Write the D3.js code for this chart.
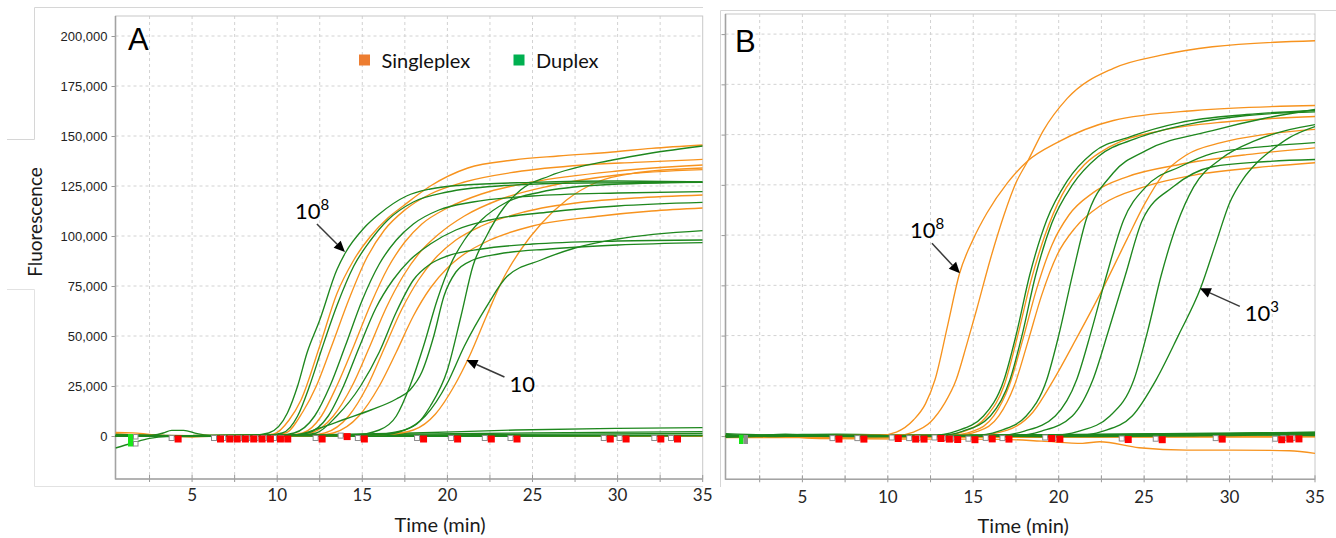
<!DOCTYPE html>
<html>
<head>
<meta charset="utf-8">
<script src="https://cdn.jsdelivr.net/npm/d3@7"></script>
<style>
  body { margin: 0; background: #fff; }
  svg { display: block; }
</style>
</head>
<body>
<svg id="chart" width="1336" height="538"></svg>
<script>
// ---- axis values ----
const timeTicks = [5, 10, 15, 20, 25, 30, 35];
const timeGrid = [2.5, 5, 7.5, 10, 12.5, 15, 17.5, 20, 22.5, 25, 27.5, 30, 32.5];
const fluorescenceTicks = [0, 25000, 50000, 75000, 100000, 125000, 150000, 175000, 200000];
const seriesNames = ["Singleplex", "Duplex"];

// ---- panel A: amplification curves, [time (min), fluorescence] ----
const singleplexA = [
  [[0.5,0],[9,300],[9.8,1000],[10.7,8000],[11.4,18000],[12.5,45000],[13.5,71000],[14.5,88000],[15.5,100000],[16.5,109000],[17.4,115000],[19,125000],[21.2,134000],[23.9,138000],[26.5,140000],[29.7,142000],[32,143800],[35,145500]],
  [[0.5,0],[9.5,300],[10.5,1500],[11.5,12000],[12.3,25000],[13.2,45000],[14.2,68000],[15.2,88000],[16.3,103000],[17.5,113000],[19,121000],[21,127000],[24,132000],[28,135500],[31,136800],[35,138300]],
  [[0.5,0],[10.5,300],[11.5,1500],[12.6,10000],[13.5,25000],[14.5,45000],[15.5,66000],[16.5,84000],[17.5,97000],[18.5,106000],[20,114000],[22,121000],[25,127000],[30,132500],[35,135500]],
  [[0.5,0],[11,300],[12,1500],[13.3,10000],[14.4,25000],[15.4,44000],[16.4,64000],[17.4,80000],[18.4,92000],[19.5,101000],[21,110000],[23,118000],[26,125000],[30,130500],[35,133200]],
  [[0.5,0],[11.8,300],[12.8,1500],[14.2,10000],[15.3,25000],[16.3,44000],[17.3,63000],[18.3,78000],[19.3,89000],[20.5,98000],[22,105000],[24.5,112000],[28,117000],[31,119000],[35,120500]],
  [[0.5,0],[12.3,300],[13.3,1500],[14.8,10000],[16,25000],[17,42000],[18,60000],[19,74000],[20,84000],[21,91000],[22.5,98000],[25,105000],[29,110000],[32,112500],[35,114000]],
  [[0.5,0],[15,300],[16.5,800],[18,3000],[19.3,11000],[20.4,25000],[21.3,40000],[22.3,60000],[23.3,79000],[24.3,93000],[25.5,106000],[27,118000],[28.8,127000],[31,131500],[35,134000]]
];
const duplexA = [
  [[0.5,0],[8.5,300],[9.5,1500],[10.6,11500],[11.2,25000],[11.75,41500],[12.5,58000],[13.5,83000],[14,91500],[15.1,104000],[16,111000],[17.6,120000],[19,123500],[21,125500],[25,126800],[30,127500],[35,127000]],
  [[0.5,0],[9.3,300],[10.3,1500],[11.2,10000],[11.9,25000],[12.6,43000],[13.5,65000],[14.5,85000],[15.5,98000],[16.5,108000],[18,117000],[20,122000],[23,125000],[28,126500],[35,126800]],
  [[0.5,0],[10,300],[11,1500],[12.2,10000],[13.1,25000],[14,45000],[15,68000],[16,86000],[17,98000],[18,106000],[19.5,113000],[21.5,117000],[25,120000],[30,121500],[35,122200]],
  [[0.5,0],[10.8,300],[11.8,1500],[13,10000],[13.9,25000],[14.8,44000],[15.8,64000],[16.8,78000],[17.8,88000],[19,96000],[20.5,103000],[22.5,108000],[26,112000],[30,115000],[35,116800]],
  [[0.5,0],[11.3,300],[12.3,1500],[13.5,10000],[14.9,25000],[16,42000],[17,62000],[18,78000],[19,86000],[20,90000],[22,93500],[25,96000],[30,97500],[35,98000]],
  [[0.5,0],[10,300],[11,500],[12.5,4000],[14,8500],[15.5,13000],[17,18500],[17.8,23000],[18.5,32000],[19.2,50000],[19.8,70000],[20.5,82000],[21.5,88000],[23,91000],[26,93500],[30,95500],[35,96700]],
  [[0.5,0],[15.5,500],[17,2000],[18.2,6000],[19,15000],[20,33000],[20.8,60000],[21.5,85000],[22.3,100000],[23.3,114000],[24.3,123000],[26,130000],[29.7,138000],[32,141500],[35,145000]],
  [[0.5,0],[14.5,500],[16,3000],[17,10000],[17.8,25000],[18.6,45000],[19.4,68000],[20.2,86000],[21,98000],[22,108000],[23.5,117000],[25.5,122000],[29,125500],[35,127000]],
  [[0.5,0],[16,500],[17.5,3000],[18.7,10000],[20,26500],[21,45000],[22.3,64700],[23.5,79700],[25.5,88000],[27.5,94000],[30,98500],[35,102700]]
];
// no-template / no-signal wells in panel A
const singleplexFlatA = [
  [[0.5,1800],[1.5,1600],[2.5,800],[4,-200],[5,-500],[6,-200],[10,0],[20,-100],[35,-200]],
  [[0.5,1200],[3,300],[8,0],[20,200],[35,0]]
];
const duplexFlatA = [
  [[0.5,-6000],[1.5,-3500],[2.5,-1200],[3.5,-300],[10,0],[20,300],[35,400]],
  [[0.5,500],[2.5,200],[3.3,1500],[3.8,2800],[4.5,2800],[5.3,1200],[6.2,200],[12,500],[18,1500],[24,3000],[30,3800],[35,4200]],
  [[0.5,800],[5,200],[12,300],[18,900],[25,1600],[35,2200]],
  [[0.5,300],[10,0],[20,600],[35,1300]],
  [[0.5,200],[15,-200],[35,100]]
];

// ---- panel B: amplification curves ----
const singleplexB = [
  [[0.5,0],[9.5,300],[10.5,2000],[11.5,8000],[12.2,16000],[12.76,28000],[13.5,55000],[14.2,81000],[15,98000],[15.8,111000],[17,126000],[18.2,137000],[19.9,146000],[23.2,157000],[28,162000],[35,164500]],
  [[0.5,0],[10.5,300],[11.5,2000],[12.5,7000],[13.3,16000],[14,28000],[14.6,45000],[15.2,63000],[16,88000],[16.8,110000],[17.5,126000],[18.2,137000],[19.1,152000],[20.5,168000],[23.2,183000],[26,189500],[29,193700],[35,196700]],
  [[0.5,0],[13,300],[14.5,2500],[15.8,10000],[16.8,25000],[17.6,50000],[18.4,78000],[19.2,100000],[20.2,120000],[21.5,135000],[23,144000],[26,152000],[30,156500],[35,159000]],
  [[0.5,0],[13.5,300],[15,2500],[16.2,10000],[17.1,25000],[17.9,48000],[18.7,73000],[19.6,95000],[20.6,110000],[22,121000],[24,129000],[27,135000],[31,140000],[35,143400]],
  [[0.5,0],[13.8,300],[15.3,2500],[16.5,10000],[17.4,25000],[18.2,47000],[19,70000],[19.9,90000],[21,104000],[22.5,115000],[25,124000],[28,130000],[31.5,133500],[35,136000]],
  [[0.5,0],[15,300],[17,3000],[18.5,12000],[19.7,28000],[21,48000],[22.5,72000],[24,98000],[25,115000],[26.1,130000],[27.5,140000],[29.5,146000],[32,150000],[35,152600]]
];
const duplexB = [
  [[0.5,0],[12.5,300],[14,2500],[15.6,10000],[16.8,28000],[17.5,50000],[18.3,80000],[19.3,107500],[20.5,127000],[22,141000],[24.2,149000],[27.1,156000],[31,160000],[35,162000]],
  [[0.5,0],[13,300],[14.4,2500],[16,10000],[17.15,28000],[17.85,50000],[18.65,80000],[19.6,106000],[20.8,125000],[22.3,139000],[24.5,148000],[27.5,155000],[31,159500],[35,161300]],
  [[0.5,0],[15,300],[16.5,2500],[18.1,10000],[19.3,28000],[20,50000],[20.8,80000],[21.6,107500],[23.2,131000],[25.1,142000],[29,152000],[32,158000],[35,162500]],
  [[0.5,0],[16.5,300],[18,2500],[19.8,10000],[21.05,28000],[21.9,52000],[22.8,80000],[23.8,107500],[25.1,124000],[27.1,134000],[29,140700],[32,144000],[35,146000]],
  [[0.5,0],[17.5,300],[19,2500],[20.8,10000],[22,28000],[22.9,52000],[23.9,80000],[24.9,107500],[26.7,124000],[29,134000],[32,136500],[35,137600]],
  [[0.5,0],[19.5,300],[21.2,2500],[23,10000],[24.4,28000],[25.2,52000],[26,80000],[26.9,105000],[27.9,124000],[29.5,138000],[31.5,147000],[33.5,152500],[35,155000]],
  [[0.5,0],[21,300],[22.6,2500],[24.3,10000],[25.7,28000],[27,50000],[28.3,73500],[29.2,96000],[30,116000],[30.8,128000],[31.6,136000],[32.5,142500],[33.5,148500],[35,154000]]
];
const singleplexFlatB = [
  [[0.5,0],[4,-300],[6,-1200],[12,-1500],[16.6,-1600],[19,-2500],[21.4,-3600],[22.4,-2800],[24.7,-5800],[27.5,-7000],[30.2,-7000],[33.5,-7300],[35,-8600]],
  [[0.5,-500],[10,-300],[20,-200],[35,-400]],
  [[0.5,-800],[15,-600],[35,-300]]
];
const duplexFlatB = [
  [[0.5,800],[2,300],[4,900],[6,200],[12,400],[20,300],[28,900],[35,1500]],
  [[0.5,500],[3,-200],[8,500],[16,200],[24,700],[30,1200],[35,2000]],
  [[0.5,-300],[5,300],[10,-200],[18,300],[26,500],[32,1400],[35,900]],
  [[0.5,200],[6,600],[14,0],[22,-300],[30,300],[35,1000]],
  [[0.5,-600],[4,0],[12,200],[20,600],[27,200],[33,1600],[35,1200]],
  [[0.5,100],[9,-300],[17,200],[25,900],[31,600],[35,300]],
  [[0.5,1200],[3,600],[7,1000],[13,300],[21,800],[29,1500],[35,1800]],
  [[0.5,-200],[4.5,700],[11,100],[19,-200],[26,1100],[35,600]]
];

// ---- threshold-call markers along the baseline, [time (min), fluorescence] ----
const markersA = [[4.18,-1500],[6.67,-1500],[7.21,-1500],[7.65,-1500],[8.13,-1500],[8.62,-1500],[9.11,-1500],[9.6,-1500],[10.19,-1500],[10.62,-1500],[12.64,-1500],[14.11,-300],[15.12,-1500],[18.6,-1500],[20.6,-1500],[22.58,-1500],[24.09,-1500],[29.57,-1500],[30.5,-1500],[32.54,-1500],[33.52,-1500]];
const markersB = [[7.14,-1500],[8.6,-1500],[10.61,-1200],[11.63,-1500],[12.12,-1500],[13.11,-1200],[13.6,-1500],[14.09,-1700],[15.1,-1800],[16.11,-1400],[17.09,-1500],[19.59,-1200],[20.07,-1500],[24.07,-1700],[26.06,-1800],[29.57,-1500],[33.05,-1800],[33.53,-1500],[34.06,-1400]];

// ---- drawing ----
const svg = d3.select("#chart");
const COL = { single: "#f7931e", duplex: "#1e871e", legendSingle: "#ed7d31", legendDuplex: "#00b050" };

svg.append("rect").attr("width", 1336).attr("height", 538).attr("fill", "#fff");

// light outer frames around each panel
svg.append("path").attr("d", "M7,139.5 H34.5 V7.5 H703").attr("fill", "none").attr("stroke", "#d6d6d6");
svg.append("path").attr("d", "M7,289.5 H34.5 V486.5 H703").attr("fill", "none").attr("stroke", "#e2e2e2");
svg.append("path").attr("d", "M720.5,487 V10.5 H1336").attr("fill", "none").attr("stroke", "#d6d6d6");

const line = (x, y) => d3.line().x(d => x(d[0])).y(d => y(d[1])).curve(d3.curveMonotoneX);

function drawPanel(p) {
  const { x, y, id } = p;
  const [x0, x1] = x.range();
  const [y0, y1] = y.range();
  const g = svg.append("g");

  // dashed grid
  g.selectAll("line.vg").data(timeGrid).join("line")
    .attr("x1", d => x(d)).attr("x2", d => x(d)).attr("y1", y1).attr("y2", y0)
    .attr("stroke", "#d2d2d2").attr("stroke-dasharray", "3,3");
  g.selectAll("line.hg").data(fluorescenceTicks).join("line")
    .attr("x1", x0).attr("x2", x1).attr("y1", d => y(d)).attr("y2", d => y(d))
    .attr("stroke", "#d2d2d2").attr("stroke-dasharray", "3,3");

  // plot border
  g.append("rect").attr("x", x0).attr("y", y1).attr("width", x1 - x0).attr("height", y0 - y1)
    .attr("fill", "none").attr("stroke", "#c8c8c8");

  // y axis
  const ya = g.append("g").attr("transform", `translate(${x0},0)`)
    .call(d3.axisLeft(y).tickValues(fluorescenceTicks).tickSize(4).tickPadding(4)
      .tickFormat(p.yLabels ? d3.format(",") : ""));
  ya.select(".domain").remove();
  ya.selectAll(".tick line").attr("stroke", "#999");
  ya.selectAll(".tick text").attr("font-family", "'Liberation Sans', Arial, sans-serif")
    .attr("font-size", 13).attr("fill", "#222");

  // x axis ticks and labels
  g.selectAll("line.xt").data(timeGrid.concat([35])).join("line")
    .attr("x1", d => x(d)).attr("x2", d => x(d)).attr("y1", y0 - 4).attr("y2", y0 + 3)
    .attr("stroke", "#999");
  g.selectAll("text.xl").data(timeTicks).join("text")
    .attr("x", d => x(d)).attr("y", p.xLabelY).attr("text-anchor", "middle")
    .attr("font-family", "Lato, 'Open Sans', sans-serif").attr("font-size", 17).attr("fill", "#262626")
    .text(d => d);

  // axis lines
  g.append("line").attr("x1", x0).attr("x2", x0).attr("y1", y1).attr("y2", y0 + 0.5)
    .attr("stroke", "#a3a3a3").attr("stroke-width", 1.6);
  g.append("line").attr("x1", x0).attr("x2", x1).attr("y1", y0).attr("y2", y0)
    .attr("stroke", "#a3a3a3").attr("stroke-width", 1.6);

  // curves
  g.append("clipPath").attr("id", "clip" + id).append("rect")
    .attr("x", x0).attr("y", y1).attr("width", x1 - x0).attr("height", y0 - y1);
  const cg = g.append("g").attr("clip-path", `url(#clip${id})`);
  const ln = line(x, y);
  const draw = (data, color) => cg.append("g").selectAll("path").data(data).join("path")
    .attr("d", ln).attr("fill", "none").attr("stroke", color).attr("stroke-width", 1.35)
    .attr("stroke-linejoin", "round");
  draw(p.singleFlat, COL.single);
  draw(p.duplexFlat, COL.duplex);
  draw(p.single, COL.single);
  draw(p.duplex, COL.duplex);

  // baseline markers: grey open square beside a red filled square
  const mg = g.append("g");
  mg.selectAll("rect.gm").data(p.markers).join("rect")
    .attr("x", d => x(d[0]) - 9).attr("y", d => y(d[1]) - 3.5).attr("width", 5).attr("height", 5)
    .attr("fill", "#fff").attr("stroke", "#8c8c8c").attr("stroke-width", 1);
  mg.selectAll("rect.rm").data(p.markers).join("rect")
    .attr("x", d => x(d[0]) - 3.5).attr("y", d => y(d[1]) - 3.5).attr("width", 7).attr("height", 7)
    .attr("fill", "#ff0000");
  p.startMarker(mg);

  // panel letter
  g.append("text").attr("x", p.letterX).attr("y", p.letterY)
    .attr("font-family", "'Liberation Sans', Arial, sans-serif").attr("font-size", 31).attr("fill", "#000")
    .text(id);

  // x title
  g.append("text").attr("x", (x0 + x1) / 2 + p.titleShift).attr("y", p.titleY).attr("text-anchor", "middle")
    .attr("font-family", "Lato, 'Open Sans', sans-serif").attr("font-size", 20).attr("fill", "#1a1a1a")
    .text("Time (min)");

  // dilution annotations with arrows
  p.notes.forEach(n => {
    const tx = x(n.t), ty = y(n.v);
    const sx = tx + n.tail[0], sy = ty + n.tail[1];
    const ang = Math.atan2(ty - sy, tx - sx);
    const L = 11, W = 5;
    const bx = tx - L * Math.cos(ang), by = ty - L * Math.sin(ang);
    g.append("line").attr("x1", sx).attr("y1", sy).attr("x2", bx).attr("y2", by)
      .attr("stroke", "#3a3a3a").attr("stroke-width", 1.5);
    g.append("path")
      .attr("d", `M${tx},${ty} L${bx - W * Math.sin(ang)},${by + W * Math.cos(ang)} L${bx + W * Math.sin(ang)},${by - W * Math.cos(ang)} Z`)
      .attr("fill", "#000");
    const t = g.append("text").attr("x", tx + n.text[0]).attr("y", ty + n.text[1])
      .attr("font-family", "Lato, 'Open Sans', sans-serif").attr("font-size", 22).attr("fill", "#000");
    t.append("tspan").text(n.base);
    if (n.sup) t.append("tspan").attr("dy", -9).attr("font-size", 15).text(n.sup);
  });
}

const yDomain = [-21500, 210000];
const xA = d3.scaleLinear([0.5, 35], [115.5, 702.7]);
const yA = d3.scaleLinear(yDomain, [479, 16]);
const xB = d3.scaleLinear([0.5, 35], [725.5, 1315]);
const yB = d3.scaleLinear(yDomain, [479.3, 14]);

drawPanel({
  id: "A", x: xA, y: yA, yLabels: true, xLabelY: 501, titleY: 532, titleShift: 31,
  letterX: 128, letterY: 50,
  single: singleplexA, duplex: duplexA, singleFlat: singleplexFlatA, duplexFlat: duplexFlatA,
  markers: markersA,
  startMarker: mg => {
    mg.append("rect").attr("x", 128).attr("y", 434).attr("width", 5.5).attr("height", 12.5).attr("fill", "#19e619");
    mg.append("rect").attr("x", 133.5).attr("y", 434.5).attr("width", 4.5).attr("height", 4.5).attr("fill", "#fff").attr("stroke", "#8c8c8c");
    mg.append("rect").attr("x", 133.5).attr("y", 441.5).attr("width", 4.5).attr("height", 4.5).attr("fill", "#fff").attr("stroke", "#8c8c8c");
  },
  notes: [
    { t: 13.98, v: 92000, tail: [-28, -28], text: [-50, -33], base: "10", sup: "8" },
    { t: 21.12, v: 38000, tail: [38, 17], text: [43, 32], base: "10" }
  ]
});

drawPanel({
  id: "B", x: xB, y: yB, yLabels: false, xLabelY: 503, titleY: 533, titleShift: 3,
  letterX: 735, letterY: 52,
  single: singleplexB, duplex: duplexB, singleFlat: singleplexFlatB, duplexFlat: duplexFlatB,
  markers: markersB,
  startMarker: mg => {
    mg.append("rect").attr("x", 739).attr("y", 435).attr("width", 4.5).attr("height", 9).attr("fill", "#19e619");
    mg.append("rect").attr("x", 743.5).attr("y", 435).attr("width", 4.5).attr("height", 9).attr("fill", "#8c8c8c");
  },
  notes: [
    { t: 14.22, v: 81000, tail: [-28, -30], text: [-50, -35], base: "10", sup: "8" },
    { t: 28.26, v: 73500, tail: [40, 18], text: [45, 33], base: "10", sup: "3" }
  ]
});

// y title
svg.append("text").attr("transform", "translate(41.5,222) rotate(-90)").attr("text-anchor", "middle")
  .attr("font-family", "Lato, 'Open Sans', sans-serif").attr("font-size", 19).attr("fill", "#1a1a1a")
  .text("Fluorescence");

// legend
const legend = svg.append("g");
const legendX = [359, 513.5];
seriesNames.forEach((name, i) => {
  legend.append("rect").attr("x", legendX[i]).attr("y", 54.5).attr("width", 11).attr("height", 11)
    .attr("fill", i === 0 ? COL.legendSingle : COL.legendDuplex);
  legend.append("text").attr("x", legendX[i] + 22.5).attr("y", 68.3)
    .attr("font-family", "Lato, 'Open Sans', sans-serif").attr("font-size", 20).attr("fill", "#111")
    .text(name);
});
</script>
</body>
</html>
